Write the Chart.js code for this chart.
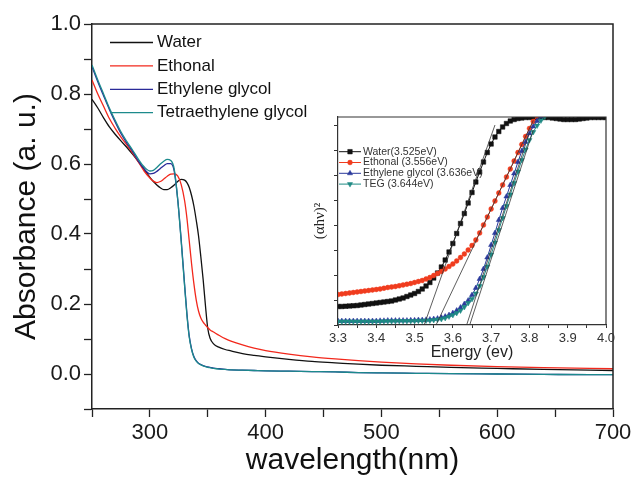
<!DOCTYPE html>
<html>
<head>
<meta charset="utf-8">
<script src="https://cdn.jsdelivr.net/npm/chart.js@4.4.1/dist/chart.umd.min.js"></script>
<style>
    html, body { margin: 0; padding: 0; background: #fff; }
    #wrap { position: relative; width: 634px; height: 479px; }
    #mainChart { position: absolute; left: 0; top: 0; }
    #insetChart { position: absolute; left: 290px; top: 105px; }
</style>
</head>
<body>
<div id="wrap">
    <canvas id="mainChart" width="634" height="479"></canvas>
    <canvas id="insetChart" width="325" height="260"></canvas>
</div>
<script>
// UV-vis absorbance spectra (nm)
const wavelengths = [250, 255, 260, 265, 270, 275, 280, 285, 290, 295, 300, 303, 306, 309, 312, 315, 318, 321, 324, 327,
    330, 332, 334, 336, 338, 340, 342, 344, 346, 348, 350, 352, 355, 360, 365, 370, 380, 390, 400, 420,
    440, 460, 480, 500, 530, 560, 600, 640, 680, 700];

const absWater = [0.785, 0.76, 0.732, 0.706, 0.685, 0.666, 0.648, 0.628, 0.607, 0.585, 0.562, 0.55, 0.54, 0.532, 0.527, 0.527, 0.532, 0.54, 0.55, 0.556,
    0.554, 0.547, 0.533, 0.51, 0.48, 0.44, 0.395, 0.335, 0.27, 0.195, 0.13, 0.102, 0.086, 0.076, 0.07, 0.066, 0.058, 0.053, 0.049, 0.042,
    0.036, 0.032, 0.028, 0.025, 0.022, 0.019, 0.016, 0.013, 0.011, 0.01];
const absEthanol = [0.84, 0.8, 0.765, 0.73, 0.702, 0.677, 0.655, 0.632, 0.606, 0.58, 0.56, 0.551, 0.547, 0.55, 0.557, 0.565, 0.571, 0.572, 0.566, 0.542,
    0.495, 0.445, 0.38, 0.315, 0.258, 0.212, 0.18, 0.16, 0.148, 0.14, 0.132, 0.126, 0.12, 0.11, 0.101, 0.094, 0.083, 0.074, 0.067, 0.057,
    0.049, 0.043, 0.038, 0.034, 0.029, 0.025, 0.021, 0.018, 0.016, 0.015];
const absEG = [0.878, 0.835, 0.795, 0.756, 0.72, 0.687, 0.66, 0.636, 0.608, 0.586, 0.572, 0.573, 0.579, 0.587, 0.595, 0.601, 0.601, 0.58, 0.5, 0.385,
    0.255, 0.172, 0.108, 0.072, 0.05, 0.038, 0.031, 0.027, 0.024, 0.022, 0.02, 0.019, 0.017, 0.015, 0.013, 0.012, 0.011, 0.01, 0.009, 0.008,
    0.007, 0.006, 0.004, 0.003, 0.002, 0.001, 0.0, -0.001, -0.002, -0.002];
const absTEG = [0.883, 0.84, 0.8, 0.76, 0.725, 0.692, 0.665, 0.64, 0.614, 0.592, 0.58, 0.582, 0.59, 0.6, 0.608, 0.613, 0.61, 0.586, 0.5, 0.38,
    0.25, 0.168, 0.105, 0.07, 0.048, 0.037, 0.03, 0.026, 0.023, 0.021, 0.019, 0.018, 0.016, 0.014, 0.013, 0.012, 0.011, 0.01, 0.009, 0.008,
    0.007, 0.006, 0.004, 0.003, 0.002, 0.001, 0.0, -0.001, -0.002, -0.002];

const solventNames = ["Water", "Ethonal", "Ethylene glycol", "Tetraethylene glycol"];

// Tauc plot (eV), series stop where they leave the top of the frame
const energies = [3.30, 3.31, 3.32, 3.33, 3.34, 3.35, 3.36, 3.37, 3.38, 3.39, 3.40, 3.41, 3.42, 3.43, 3.44, 3.45, 3.46, 3.47, 3.48, 3.49,
    3.50, 3.51, 3.52, 3.53, 3.54, 3.55, 3.56, 3.57, 3.58, 3.59, 3.60, 3.61, 3.62, 3.63, 3.64, 3.65, 3.66, 3.67, 3.68, 3.69,
    3.70, 3.71, 3.72, 3.73, 3.74, 3.75, 3.76, 3.77, 3.78, 3.79, 3.80, 3.81, 3.82, 3.83, 3.84, 3.85, 3.86, 3.87, 3.88, 3.89,
    3.90, 3.91, 3.92, 3.93, 3.94, 3.95, 3.96, 3.97, 3.98, 3.99, 4.00];

const taucWater = [0.37, 0.37, 0.375, 0.38, 0.385, 0.39, 0.40, 0.41, 0.42, 0.43, 0.44, 0.45, 0.46, 0.47, 0.48, 0.50, 0.52, 0.54, 0.57, 0.60,
    0.63, 0.67, 0.72, 0.78, 0.85, 0.94, 1.04, 1.16, 1.30, 1.46, 1.63, 1.83, 2.03, 2.23, 2.44, 2.65, 2.86, 3.06, 3.26, 3.45,
    3.62, 3.76, 3.87, 3.96, 4.03, 4.08, 4.11, 4.13, 4.14, 4.15, 4.15, 4.15, 4.15, 4.15, 4.15, 4.15, 4.14, 4.13, 4.12, 4.11,
    4.11, 4.11, 4.11, 4.12, 4.13, 4.14, 4.15, 4.15, 4.15, 4.15, 4.15];
const taucEthanol = [0.61, 0.62, 0.63, 0.64, 0.65, 0.66, 0.67, 0.68, 0.69, 0.70, 0.71, 0.72, 0.735, 0.75, 0.76, 0.77, 0.785, 0.80, 0.815, 0.83,
    0.85, 0.87, 0.89, 0.92, 0.95, 0.99, 1.03, 1.07, 1.12, 1.17, 1.22, 1.28, 1.35, 1.42, 1.50, 1.59, 1.70, 1.84, 2.00, 2.16,
    2.32, 2.48, 2.64, 2.80, 2.96, 3.12, 3.28, 3.45, 3.61, 3.77, 3.93, 4.07, 4.18];
const taucEG = [0.08, 0.08, 0.08, 0.08, 0.08, 0.08, 0.08, 0.08, 0.08, 0.08, 0.08, 0.085, 0.085, 0.09, 0.09, 0.09, 0.09, 0.09, 0.09, 0.095,
    0.095, 0.10, 0.10, 0.105, 0.11, 0.12, 0.13, 0.15, 0.17, 0.20, 0.24, 0.29, 0.35, 0.42, 0.49, 0.60, 0.74, 0.92, 1.12, 1.35,
    1.60, 1.84, 2.10, 2.34, 2.57, 2.80, 3.03, 3.26, 3.48, 3.66, 3.83, 3.97, 4.08, 4.17];
const taucTEG = [0.07, 0.07, 0.07, 0.07, 0.07, 0.07, 0.07, 0.07, 0.07, 0.07, 0.07, 0.07, 0.075, 0.075, 0.075, 0.075, 0.08, 0.08, 0.08, 0.08,
    0.08, 0.085, 0.085, 0.09, 0.09, 0.10, 0.11, 0.12, 0.14, 0.17, 0.20, 0.24, 0.29, 0.36, 0.44, 0.52, 0.63, 0.78, 0.96, 1.17,
    1.41, 1.65, 1.90, 2.14, 2.38, 2.61, 2.84, 3.07, 3.30, 3.51, 3.70, 3.86, 3.99, 4.09, 4.17];

// extrapolated band gaps and the upper end of each linear fit [eV, (ahv)^2]
const bandGaps = [3.525, 3.556, 3.636, 3.644];
const fitTops = [[3.71, 4.0], [3.81, 4.09], [3.80, 3.85], [3.81, 3.9]];
const taucNames = ["Water", "Ethonal ", "Ethylene glycol ", "TEG "];

const FONT = "Liberation Sans";

function toPoints(xs, ys) {
    return ys.map((y, i) => ({ x: xs[i], y }));
}

// legend drawn as line (+ marker) and label, one row per dataset
const lineLegend = {
    id: "lineLegend",
    afterDraw(chart, args, opts) {
        const ctx = chart.ctx;
        ctx.save();
        ctx.font = opts.font;
        ctx.textBaseline = "middle";
        opts.items.forEach((idx, row) => {
            const ds = chart.data.datasets[idx];
            const y = opts.y + row * opts.rowGap;
            ctx.strokeStyle = ds.borderColor;
            ctx.lineWidth = opts.lineWidth || ds.borderWidth;
            ctx.beginPath();
            ctx.moveTo(opts.x, y);
            ctx.lineTo(opts.x + opts.lineLength, y);
            ctx.stroke();
            if (opts.markers) {
                ctx.fillStyle = ds.pointBackgroundColor;
                ctx.strokeStyle = ds.pointBorderColor;
                ctx.lineWidth = ds.pointBorderWidth;
                Chart.helpers.drawPoint(ctx, {
                    pointStyle: ds.pointStyle,
                    radius: ds.pointRadius,
                    rotation: ds.pointRotation || 0,
                    borderWidth: ds.pointBorderWidth
                }, opts.x + opts.lineLength / 2, y);
            }
            ctx.fillStyle = opts.color;
            ctx.fillText(opts.labels ? opts.labels[row] : ds.label, opts.x + opts.lineLength + opts.gap, y);
        });
        ctx.restore();
    }
};

// white plot area underneath, closed frame on top
const frameBox = {
    id: "frameBox",
    beforeDraw(chart, args, opts) {
        if (!opts.fill) return;
        const { left, top, width, height } = chart.chartArea;
        chart.ctx.save();
        chart.ctx.fillStyle = opts.fill;
        chart.ctx.fillRect(left, top, width, height);
        chart.ctx.restore();
    },
    afterDraw(chart, args, opts) {
        const { left, top, right, bottom } = chart.chartArea;
        const ctx = chart.ctx;
        ctx.save();
        ctx.strokeStyle = opts.color;
        ctx.lineWidth = opts.width;
        ctx.beginPath();
        ctx.moveTo(left, top);
        ctx.lineTo(right, top);
        ctx.lineTo(right, bottom);
        ctx.stroke();
        ctx.restore();
    }
};

const lineColors = ["#111111", "#f2281c", "#2a2a98", "#1c8a8c"];
const absSeries = [absWater, absEthanol, absEG, absTEG];

new Chart(document.getElementById("mainChart"), {
    type: "line",
    data: {
        datasets: absSeries.map((values, i) => ({
            label: solventNames[i],
            data: toPoints(wavelengths, values),
            borderColor: lineColors[i],
            borderWidth: 1.3,
            pointRadius: 0,
            cubicInterpolationMode: "monotone",
            order: 4 - i
        }))
    },
    options: {
        responsive: false,
        animation: false,
        devicePixelRatio: 1,
        layout: { padding: { left: 0, right: 21, top: 24, bottom: 0 } },
        plugins: {
            legend: { display: false },
            tooltip: { enabled: false },
            lineLegend: {
                items: [0, 1, 2, 3],
                x: 110, y: 42.5, rowGap: 23.4,
                lineLength: 43, gap: 4, lineWidth: 1.3,
                font: `17px ${FONT}`, color: "#111"
            },
            frameBox: { color: "#222", width: 1.5 }
        },
        scales: {
            x: {
                type: "linear",
                min: 250,
                max: 700,
                ticks: {
                    stepSize: 50,
                    autoSkip: false,
                    maxRotation: 0,
                    padding: 3,
                    color: "#1a1a1a",
                    font: { family: FONT, size: 22 },
                    callback: v => (v % 100 === 0 ? String(v) : "")
                },
                grid: { drawOnChartArea: false, tickLength: 8, tickWidth: 1.3, tickColor: "#222" },
                border: { color: "#222", width: 1.5 },
                title: {
                    display: true,
                    text: "wavelength(nm)",
                    color: "#111",
                    font: { family: FONT, size: 30 },
                    padding: { top: 0, bottom: 0 }
                },
                afterFit(scale) {
                    scale.height = 70;
                    scale.paddingLeft = 0;
                    scale.paddingRight = 0;
                }
            },
            y: {
                min: -0.1,
                max: 1.0,
                ticks: {
                    stepSize: 0.1,
                    autoSkip: false,
                    padding: 3,
                    color: "#1a1a1a",
                    font: { family: FONT, size: 22 },
                    callback: v => {
                        const k = Math.round(v * 10);
                        return k >= 0 && k % 2 === 0 ? (k / 10).toFixed(1) : "";
                    }
                },
                grid: { drawOnChartArea: false, tickLength: 8, tickWidth: 1.3, tickColor: "#222" },
                border: { color: "#222", width: 1.5 },
                title: {
                    display: true,
                    text: "Absorbance (a. u.)",
                    color: "#111",
                    font: { family: FONT, size: 30 },
                    padding: { top: 9, bottom: 0 }
                },
                afterFit(scale) {
                    scale.width = 92;
                    scale.paddingTop = 0;
                    scale.paddingBottom = 0;
                }
            }
        }
    },
    plugins: [lineLegend, frameBox]
});

// inset: (ahv)^2 against photon energy with linear extrapolations
const taucSeries = [taucWater, taucEthanol, taucEG, taucTEG];
const markerColors = ["#111111", "#f03c1e", "#2b3a9c", "#1f8a84"];
const markerStyles = ["rect", "circle", "triangle", "triangle"];
const markerRadius = [3.2, 2.4, 3, 3];
const markerRotation = [0, 0, 0, 180];

const taucSets = taucSeries.map((values, i) => ({
    label: `${taucNames[i]}(${bandGaps[i].toFixed(3)}eV)`,
    data: toPoints(energies, values),
    borderColor: markerColors[i],
    borderWidth: 1,
    pointStyle: markerStyles[i],
    pointRadius: markerRadius[i],
    pointRotation: markerRotation[i],
    pointBackgroundColor: markerColors[i],
    pointBorderColor: markerColors[i],
    pointBorderWidth: 0.5,
    order: 5 - i
}));

const fitSets = bandGaps.map((eg, i) => ({
    label: "fit",
    data: [{ x: eg, y: 0 }, { x: fitTops[i][0], y: fitTops[i][1] }],
    borderColor: "#333",
    borderWidth: 0.8,
    pointRadius: 0,
    order: 0
}));

new Chart(document.getElementById("insetChart"), {
    type: "line",
    data: { datasets: [...taucSets, ...fitSets] },
    options: {
        responsive: false,
        animation: false,
        devicePixelRatio: 1,
        layout: { padding: { left: 0, right: 9, top: 12, bottom: 0 } },
        plugins: {
            legend: { display: false },
            tooltip: { enabled: false },
            lineLegend: {
                items: [0, 1, 2, 3],
                x: 49, y: 46.7, rowGap: 10.8,
                lineLength: 22, gap: 2, lineWidth: 1,
                markers: true,
                font: `10.5px ${FONT}`, color: "#333"
            },
            frameBox: { color: "#333", width: 1.2, fill: "#fff" }
        },
        scales: {
            x: {
                type: "linear",
                min: 3.3,
                max: 4.0,
                ticks: {
                    stepSize: 0.05,
                    autoSkip: false,
                    maxRotation: 0,
                    padding: 3,
                    color: "#333",
                    font: { family: FONT, size: 13 },
                    callback: v => (Math.round(v * 100) % 10 === 0 ? v.toFixed(1) : "")
                },
                grid: { drawOnChartArea: false, tickLength: 3, tickWidth: 1, tickColor: "#333" },
                border: { color: "#333", width: 1.2 },
                title: {
                    display: true,
                    text: "Energy (ev)",
                    color: "#222",
                    font: { family: FONT, size: 16 },
                    padding: { top: 0, bottom: 2.4 }
                },
                afterFit(scale) {
                    scale.height = 40;
                    scale.paddingLeft = 0;
                    scale.paddingRight = 0;
                }
            },
            y: {
                min: 0,
                max: 4.16,
                ticks: {
                    stepSize: 0.5,
                    includeBounds: false,
                    autoSkip: false,
                    callback: () => ""
                },
                grid: { drawOnChartArea: false, tickLength: 4, tickWidth: 1, tickColor: "#333" },
                border: { color: "#333", width: 1.2 },
                title: {
                    display: true,
                    text: "(αhν)²",
                    color: "#222",
                    font: { family: "Liberation Serif", size: 15 },
                    padding: { top: 21, bottom: 0 }
                },
                afterFit(scale) {
                    scale.width = 48;
                    scale.paddingTop = 0;
                    scale.paddingBottom = 0;
                }
            }
        }
    },
    plugins: [lineLegend, frameBox]
});
</script>
</body>
</html>
